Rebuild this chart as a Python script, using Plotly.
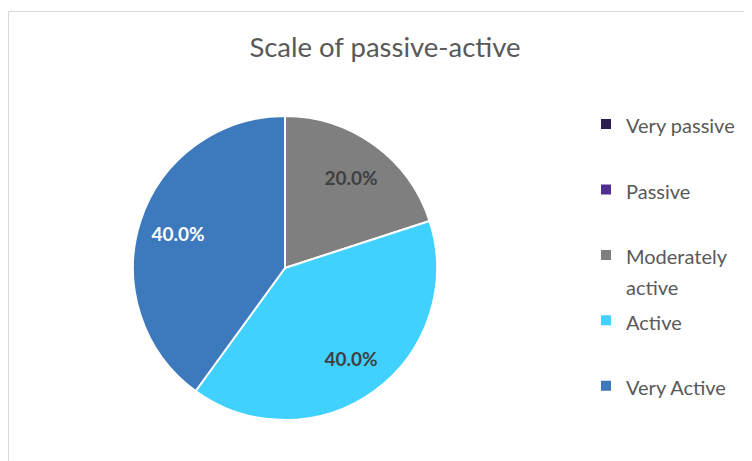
import plotly.graph_objects as go

W, H = 752, 461

categories = ["Very passive", "Passive", "Moderately active", "Active", "Very Active"]
legend_lines = [["Very passive"], ["Passive"], ["Moderately", "active"], ["Active"], ["Very Active"]]
values = [0, 0, 20, 40, 40]
colors = ["#2c1f4f", "#4f2f8f", "#7f7f7f", "#41d1ff", "#3c79bd"]
text_colors = ["#404040", "#404040", "#404040", "#404040", "#ffffff"]
title_text = "Scale of passive-active"

font_family = "Lato, 'Noto Sans', sans-serif"

# Legend labels: visible text at 20px, each padded to two legend lines
def legend_label(lines):
    parts = ['<span style="font-size:20px">%s</span>' % t for t in lines]
    parts += [" "] * (2 - len(lines))
    return "<br>".join(parts)

labels = [legend_label(l) for l in legend_lines]

domain = dict(x=[125 / W, 429 / W], y=[49 / H, 353 / H])

pie = go.Pie(
    labels=labels,
    values=values,
    sort=False,
    direction="clockwise",
    rotation=0,
    marker=dict(colors=colors, line=dict(color="#ffffff", width=2)),
    textinfo="none",
    hovertext=categories,
    hoverinfo="text+percent",
    domain=domain,
)

# transparent ring carrying the percentage labels (places them further out)
label_ring = go.Pie(
    labels=labels,
    values=values,
    sort=False,
    direction="clockwise",
    rotation=0,
    hole=0.48,
    marker=dict(colors=["rgba(0,0,0,0)"] * len(values), line=dict(width=0)),
    texttemplate=["" if v == 0 else "%{percent:.1%}" for v in values],
    textposition="inside",
    insidetextorientation="horizontal",
    textfont=dict(family=font_family, size=19, color=text_colors, weight="bold"),
    hoverinfo="skip",
    showlegend=False,
    domain=domain,
)

fig = go.Figure([pie, label_ring])

fig.update_layout(
    width=W, height=H,
    margin=dict(l=0, r=0, t=0, b=0),
    paper_bgcolor="#ffffff",
    font=dict(family=font_family, color="#595959"),
    title=dict(text=title_text, x=377 / W, xanchor="center", xref="paper",
               y=(H - 39) / H, yanchor="middle", yref="paper",
               font=dict(size=27.5, color="#595959", family=font_family)),
    legend=dict(x=578 / W, y=(H - 94) / H, xanchor="left", yanchor="top",
                valign="top", font=dict(size=24, color="#595959"),
                bgcolor="rgba(0,0,0,0)"),
    shapes=[dict(type="rect", xref="paper", yref="paper",
                 x0=0.5 / W, x1=1.2, y0=-0.2, y1=(H - 3.5) / H,
                 line=dict(color="#d9d9d9", width=1), fillcolor="rgba(0,0,0,0)")],
)

fig.write_html("out.html")
